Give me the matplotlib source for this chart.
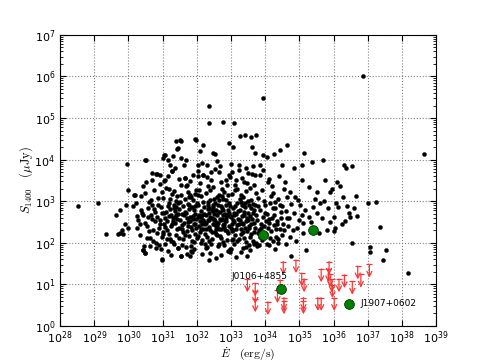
import numpy as np
import matplotlib
matplotlib.use("Agg")
import matplotlib.pyplot as plt

# log10 of spin-down power (erg/s) and 1400 MHz flux (uJy) for the catalogue pulsars
pulsar_log_edot = [
    28.51, 29.11, 29.35, 29.64, 29.74, 29.70, 29.95, 30.00, 29.90, 29.80,
    29.76, 29.85, 29.93, 30.00, 36.86, 38.66, 38.18, 33.93, 32.35, 32.35,
    32.76, 33.09, 37.02, 37.25, 37.35, 37.53, 37.44, 37.07, 37.07, 36.66,
    36.54, 36.54, 35.69, 35.37, 35.14, 34.65, 34.44, 34.75, 35.20, 33.46,
    32.36, 30.97, 31.80, 32.96, 34.37, 36.00, 36.31, 36.36, 31.40, 31.95,
    30.21, 30.28, 30.33, 30.36, 30.42, 30.45, 30.51, 30.55, 30.58, 30.63,
    30.66, 30.69, 30.72, 30.75, 30.78, 30.80, 30.25, 30.38, 30.47, 30.60,
    30.24, 30.43, 30.48, 30.53, 30.61, 30.65, 30.68, 30.77, 30.82, 30.15,
    30.19, 30.14, 30.34, 30.39, 30.42, 30.72, 30.80, 30.57, 30.70, 30.49,
    30.84, 30.87, 30.90, 30.92, 30.95, 30.98, 31.01, 31.03, 31.06, 31.08,
    31.11, 31.13, 31.16, 31.18, 31.21, 31.23, 31.26, 31.28, 31.30, 31.33,
    31.35, 31.38, 31.40, 31.42, 31.45, 31.47, 31.49, 30.88, 30.93, 30.97,
    31.00, 31.04, 31.07, 31.10, 31.14, 31.17, 31.20, 31.24, 31.27, 31.31,
    31.34, 31.37, 31.41, 31.44, 31.48, 30.86, 30.91, 30.99, 31.12, 31.19,
    31.25, 31.29, 31.36, 31.43, 31.46, 31.05, 31.15, 31.22, 31.32, 31.39,
    31.51, 31.53, 31.55, 31.57, 31.59, 31.61, 31.63, 31.65, 31.67, 31.69,
    31.71, 31.73, 31.75, 31.77, 31.79, 31.81, 31.83, 31.85, 31.87, 31.89,
    31.91, 31.93, 31.95, 31.97, 31.99, 32.01, 32.03, 32.05, 32.07, 32.09,
    32.11, 32.13, 32.15, 32.17, 32.19, 32.21, 32.23, 31.52, 31.56, 31.60,
    31.64, 31.68, 31.72, 31.76, 31.80, 31.84, 31.88, 31.92, 31.96, 32.00,
    32.04, 32.08, 32.12, 32.16, 32.20, 32.24, 31.54, 31.62, 31.70, 31.78,
    31.86, 31.94, 32.02, 32.10, 32.18, 31.58, 31.66, 31.74, 31.82, 31.90,
    31.98, 32.06, 32.14, 32.22, 31.79, 31.87, 31.95, 32.03, 32.11, 32.19,
    32.26, 32.28, 32.30, 32.32, 32.34, 32.36, 32.38, 32.40, 32.42, 32.44,
    32.46, 32.48, 32.50, 32.52, 32.54, 32.56, 32.58, 32.60, 32.62, 32.64,
    32.66, 32.68, 32.70, 32.72, 32.74, 32.76, 32.78, 32.80, 32.82, 32.84,
    32.86, 32.88, 32.90, 32.92, 32.94, 32.96, 32.98, 32.27, 32.31, 32.35,
    32.39, 32.43, 32.47, 32.51, 32.55, 32.59, 32.63, 32.67, 32.71, 32.75,
    32.79, 32.83, 32.87, 32.91, 32.95, 32.99, 32.29, 32.37, 32.45, 32.53,
    32.61, 32.69, 32.77, 32.85, 32.93, 32.33, 32.41, 32.49, 32.57, 32.65,
    32.73, 32.81, 32.89, 32.97, 32.30, 32.44, 32.52, 32.66, 32.74, 32.88,
    32.28, 32.36, 32.48, 32.58, 32.64, 32.72, 32.80, 32.86, 32.94, 32.40,
    33.01, 33.03, 33.05, 33.07, 33.09, 33.11, 33.13, 33.15, 33.17, 33.19,
    33.21, 33.23, 33.25, 33.27, 33.29, 33.31, 33.33, 33.35, 33.37, 33.39,
    33.41, 33.43, 33.45, 33.47, 33.49, 33.51, 33.53, 33.55, 33.57, 33.59,
    33.61, 33.63, 33.65, 33.67, 33.69, 33.71, 33.73, 33.04, 33.12, 33.20,
    33.28, 33.36, 33.44, 33.52, 33.60, 33.68, 33.08, 33.16, 33.24, 33.32,
    33.40, 33.48, 33.56, 33.64, 33.72, 33.02, 33.10, 33.18, 33.26, 33.34,
    33.42, 33.50, 33.58, 33.66, 33.74, 33.06, 33.14, 33.22, 33.30, 33.38,
    33.46, 33.54, 33.62, 33.70, 33.00, 33.28, 33.36, 33.58, 33.66, 33.44,
    33.76, 33.79, 33.82, 33.85, 33.88, 33.91, 33.94, 33.97, 34.00, 34.03,
    34.06, 34.09, 34.12, 34.15, 34.18, 34.21, 34.24, 34.27, 34.30, 34.33,
    34.36, 34.39, 34.42, 34.45, 34.48, 33.78, 33.84, 33.90, 33.96, 34.02,
    34.08, 34.14, 34.20, 34.26, 34.32, 34.38, 34.44, 33.80, 33.87, 33.93,
    33.99, 34.05, 34.11, 34.17, 34.23, 34.29, 34.35, 34.41, 34.47, 33.82,
    34.50, 34.56, 34.59, 34.63, 34.65, 34.73, 34.73, 34.81, 34.83, 34.85,
    34.88, 34.98, 35.02, 35.07, 35.07, 35.09, 35.10, 35.12, 35.27, 35.27,
    35.41, 35.51, 35.51, 35.59, 35.61, 35.76, 35.80, 35.90, 35.90, 36.00,
    36.05, 36.10, 36.13, 36.20, 36.29, 36.39, 36.44, 36.47, 36.59, 36.68,
    34.52, 34.60, 34.68, 34.76, 34.92, 34.55, 34.70, 34.95, 35.18, 35.35,
    35.45, 35.66, 35.85, 36.08, 36.25, 35.72, 35.95, 36.35, 34.62, 34.90,
    30.50, 30.68, 30.81, 31.05, 31.54, 31.43, 31.98, 32.18, 32.46, 32.54,
    32.93, 33.07, 33.27, 33.41, 33.58, 33.72, 33.61, 33.71, 33.95, 34.05,
    34.26, 33.85, 34.49, 31.06, 31.21, 31.30, 31.45, 31.52, 31.55, 32.08,
    32.03, 32.17, 31.64, 31.69, 30.92, 30.82, 30.48, 31.16, 31.01, 31.26,
    30.43, 30.48, 30.97, 31.45, 31.55, 31.84, 32.16, 32.40, 32.72, 33.00,
    33.30, 33.55, 33.75, 34.10, 32.55, 31.70, 32.90, 33.15, 34.30, 31.25,
    31.08, 31.36, 31.62, 31.88, 32.14, 32.42, 32.68, 32.96, 33.22, 33.50,
    31.18, 31.48, 31.76, 32.02, 32.32, 32.58, 32.84, 33.12, 33.38, 33.64,
    30.62, 30.94, 31.22, 31.58, 31.92, 32.26, 32.62, 33.02, 33.44, 33.86,
    31.02, 31.32, 31.66, 31.96, 32.36, 32.70, 33.06, 33.34, 33.68, 34.12,
    30.74, 31.40, 31.74, 32.04, 32.46, 32.78, 33.18, 33.52, 33.88, 34.22,
    32.12, 32.34, 32.56, 32.82, 33.08, 33.32, 32.24, 32.50, 32.76, 33.02,
]
pulsar_log_s = [
    2.89, 2.95, 2.21, 2.68, 2.24, 2.20, 3.89, 3.27, 2.44, 2.30,
    2.78, 2.22, 2.92, 2.36, 6.02, 4.13, 1.28, 5.48, 5.28, 4.89,
    4.91, 4.89, 2.95, 2.97, 2.37, 1.83, 1.59, 1.89, 1.77, 3.13,
    3.85, 1.99, 3.98, 3.94, 4.15, 4.35, 4.22, 1.68, 1.83, 1.68,
    1.59, 1.59, 1.68, 1.77, 1.99, 2.28, 3.86, 3.80, 4.45, 4.50,
    2.95, 2.55, 2.18, 3.12, 2.66, 1.93, 3.45, 2.41, 2.83, 2.12,
    3.02, 2.58, 2.31, 3.28, 2.74, 1.88, 2.35, 2.78, 3.19, 2.97,
    2.64, 1.82, 1.76, 2.12, 2.28, 2.68, 3.51, 2.52, 2.24, 3.16,
    3.16, 2.88, 2.44, 2.72, 3.36, 2.04, 2.00, 2.62, 2.90, 2.48,
    2.62, 3.08, 2.35, 2.44, 2.86, 2.15, 3.08, 2.71, 2.60, 2.38,
    3.32, 2.52, 2.88, 2.21, 3.05, 2.67, 3.72, 2.45, 2.52, 2.90,
    2.76, 2.18, 3.00, 2.58, 1.88, 2.81, 2.35, 1.95, 3.42, 2.72,
    2.20, 3.48, 1.96, 2.74, 2.30, 1.80, 2.95, 2.05, 3.18, 2.60,
    3.24, 2.48, 2.32, 2.96, 2.12, 2.90, 2.55, 3.22, 2.08, 2.65,
    2.40, 2.02, 2.62, 3.12, 2.70, 2.44, 3.60, 2.82, 1.98, 2.86,
    2.55, 3.15, 1.68, 2.42, 2.88, 2.25, 2.66, 3.56, 2.72, 3.36,
    2.28, 2.94, 2.50, 2.16, 3.16, 2.61, 2.37, 2.85, 2.04, 3.02,
    2.46, 2.78, 2.20, 3.28, 2.58, 2.12, 2.92, 2.40, 2.68, 3.44,
    2.33, 2.76, 2.07, 3.64, 2.54, 2.86, 2.22, 2.98, 2.34, 2.08,
    2.74, 1.90, 3.38, 2.82, 2.52, 3.10, 2.64, 1.84, 2.70, 2.96,
    2.16, 2.52, 3.12, 2.44, 2.70, 1.96, 3.40, 2.48, 2.60, 2.92,
    2.30, 3.18, 2.62, 2.26, 2.98, 2.70, 3.06, 2.40, 1.92, 2.58,
    2.36, 3.26, 2.66, 2.50, 3.48, 1.78, 2.88, 3.72, 2.00, 2.34,
    2.68, 3.20, 2.14, 2.56, 2.90, 2.38, 3.04, 2.62, 1.98, 2.80,
    2.44, 3.34, 2.70, 2.26, 2.96, 2.50, 3.10, 2.18, 2.74, 2.34,
    3.02, 2.58, 3.46, 2.12, 2.84, 2.42, 2.66, 3.22, 2.30, 2.92,
    2.52, 2.06, 2.78, 3.14, 2.40, 2.64, 2.88, 2.48, 3.58, 2.72,
    2.30, 2.60, 2.90, 3.06, 2.20, 2.66, 2.48, 2.16, 2.56, 3.30,
    2.46, 2.70, 3.40, 2.24, 2.96, 2.36, 1.90, 2.84, 2.10, 3.78,
    2.92, 2.74, 2.02, 2.60, 3.62, 2.98, 3.50, 2.54, 2.80, 1.96,
    3.12, 2.38, 2.68, 1.84, 3.88, 2.26, 2.42, 3.70, 2.58, 2.28,
    2.34, 2.56, 2.76, 2.40, 3.16, 2.88, 1.94, 3.04, 2.72, 3.26,
    2.62, 3.18, 2.30, 2.84, 2.50, 3.40, 2.18, 2.70, 2.96, 2.42,
    2.76, 2.08, 3.06, 2.56, 2.34, 2.90, 3.56, 2.46, 2.68, 2.12,
    2.86, 2.52, 3.24, 2.28, 2.72, 3.00, 2.40, 2.64, 3.32, 2.20,
    2.58, 2.94, 2.04, 2.80, 3.62, 2.36, 2.66, 3.70, 2.88, 2.58,
    2.22, 3.10, 2.02, 2.90, 3.04, 2.48, 1.96, 2.32, 3.88, 2.64,
    2.36, 3.44, 2.14, 2.72, 3.20, 2.44, 2.66, 3.30, 2.80, 1.88,
    2.96, 2.56, 2.84, 2.26, 2.00, 2.10, 3.52, 2.44, 3.14, 2.74,
    2.60, 1.94, 3.66, 2.92, 3.90, 2.98, 2.26, 2.46, 3.40, 3.80,
    2.54, 3.08, 2.30, 2.78, 2.16, 3.26, 2.62, 2.40, 2.90, 2.20,
    2.70, 3.46, 2.48, 2.96, 2.28, 2.60, 3.20, 2.42, 2.84, 2.14,
    2.52, 3.06, 2.34, 2.74, 2.18, 2.88, 3.62, 2.06, 3.00, 2.52,
    2.36, 2.12, 3.36, 2.68, 2.32, 2.10, 2.90, 2.24, 2.46, 3.74,
    2.72, 1.98, 2.58, 3.12, 2.04, 2.98, 2.44, 3.60, 2.60, 1.94,
    2.88, 2.31, 3.47, 2.59, 3.11, 2.15, 3.23, 2.31, 2.71, 3.79,
    3.11, 2.55, 2.91, 2.67, 3.87, 3.51, 2.23, 2.47, 2.63, 3.33,
    2.87, 2.71, 3.23, 2.23, 2.95, 3.51, 2.31, 2.51, 3.21, 2.63,
    2.36, 3.47, 2.87, 3.37, 3.11, 2.89, 2.71, 2.63, 2.83, 2.65,
    2.44, 2.76, 2.40, 2.94, 2.36, 3.30, 2.60, 3.04, 2.78, 2.50,
    3.05, 2.60, 2.84, 2.95, 2.44, 3.00, 3.30, 2.52, 1.98, 2.04,
    3.99, 3.69, 3.66, 4.11, 4.44, 4.26, 4.47, 4.35, 4.17, 4.14,
    4.41, 4.30, 4.57, 4.60, 4.55, 4.60, 4.31, 4.17, 4.10, 4.07,
    4.14, 3.88, 3.87, 4.12, 3.88, 4.08, 4.28, 4.48, 4.04, 4.20,
    3.60, 3.64, 3.56, 3.98, 3.64, 3.66, 4.00, 4.00, 4.04, 3.72,
    1.82, 1.76, 1.60, 1.88, 1.68, 1.80, 1.72, 1.75, 1.70, 1.85,
    1.78, 1.82, 1.92, 1.95, 1.64, 1.74, 1.80, 1.66, 1.86, 1.70,
    3.52, 3.80, 3.86, 3.62, 3.92, 3.70, 3.84, 3.58, 3.76, 3.68,
    3.30, 3.54, 3.10, 3.86, 3.36, 3.96, 3.52, 3.26, 3.46, 3.84,
    1.92, 1.86, 2.10, 1.94, 2.02, 1.88, 1.92, 2.06, 1.90, 2.14,
    2.26, 2.84, 2.18, 2.44, 2.04, 2.32, 2.56, 2.90, 1.98, 3.54,
    2.82, 2.66, 3.22, 3.14, 2.86, 3.06, 2.04, 2.36, 2.36, 2.84,
    2.62, 2.82, 2.34, 2.54, 2.72, 2.48, 2.44, 2.58, 2.78, 2.28,
]

# upper limits (red arrows)
limit_log_edot = [
    33.48, 33.71, 33.71, 33.71, 34.08, 34.36, 34.44, 34.53, 34.55, 34.55,
    34.90, 35.07, 35.14, 35.12, 35.12, 35.54, 35.64, 35.64, 35.85, 35.87,
    35.90, 35.95, 35.97, 36.02, 36.16, 36.32, 36.55, 36.71, 36.80, 37.05,
]
limit_log_s = [
    1.13, 1.03, 0.85, 0.65, 0.58, 0.87, 1.11, 1.55, 0.68, 0.60,
    1.59, 1.27, 1.13, 0.68, 0.60, 0.68, 0.68, 1.37, 1.37, 1.55,
    1.25, 1.12, 0.99, 0.68, 1.13, 1.23, 1.07, 1.44, 1.24, 1.48,
]

# new detections (green)
det_log_edot = [33.95, 35.41, 34.47, 36.45]
det_log_s = [2.19, 2.31, 0.89, 0.53]
det_names = ["J0106+4855", "J1907+0602"]
label_log_pos = [(33.0, 1.18), (36.78, 0.53)]

edot = 10 ** np.array(pulsar_log_edot)
s1400 = 10 ** np.array(pulsar_log_s)

fig = plt.figure(figsize=(4.85, 3.63), dpi=100)
ax = fig.add_axes([0.124, 0.102, 0.775, 0.802])

ax.plot(edot, s1400, 'o', color='black', ms=2.9, mec='black', mew=0.3, zorder=3)

for le, ls in zip(limit_log_edot, limit_log_s):
    ax.annotate('', xy=(10 ** le, 10 ** (ls - 0.32)), xytext=(10 ** le, 10 ** ls),
                arrowprops=dict(arrowstyle='->', color='#ff3535', lw=0.9,
                                shrinkA=0, shrinkB=0, mutation_scale=9), zorder=4)
ax.plot(10 ** np.array(limit_log_edot), 10 ** np.array(limit_log_s), '_',
        color='#ff3535', ms=5, mew=0.9, zorder=4)

ax.plot(10 ** np.array(det_log_edot), 10 ** np.array(det_log_s), 'o',
        color='green', mec='#003300', mew=0.6, ms=7, zorder=5)

for name, (lx, ly) in zip(det_names, label_log_pos):
    ax.text(10 ** lx, 10 ** ly, name, fontsize=6.5, ha='left', va='center', zorder=6)

ax.set_xscale('log')
ax.set_yscale('log')
ax.set_xlim(1e28, 1e39)
ax.set_ylim(1e0, 1e7)
ax.set_xticks([10.0 ** k for k in range(28, 40)])
ax.set_yticks([10.0 ** k for k in range(0, 8)])
ax.grid(True, which='major', color='gray', linestyle=':', linewidth=0.8)
ax.tick_params(which='both', direction='in', top=True, right=True, labelsize=8)
ax.tick_params(axis='x', which='major', length=4, pad=2.5)
ax.tick_params(axis='y', which='major', length=4)
ax.tick_params(which='minor', length=2)

ax.set_xlabel(r'$\dot{E}\ \ \ (\mathrm{erg/s})$', fontsize=8.5, math_fontfamily='cm', labelpad=-1)
ax.set_ylabel(r'$S_{1400}\ \ \ (\mu\mathrm{Jy})$', fontsize=9, math_fontfamily='cm', labelpad=-0.5)

fig.savefig('out.png', dpi=100)
